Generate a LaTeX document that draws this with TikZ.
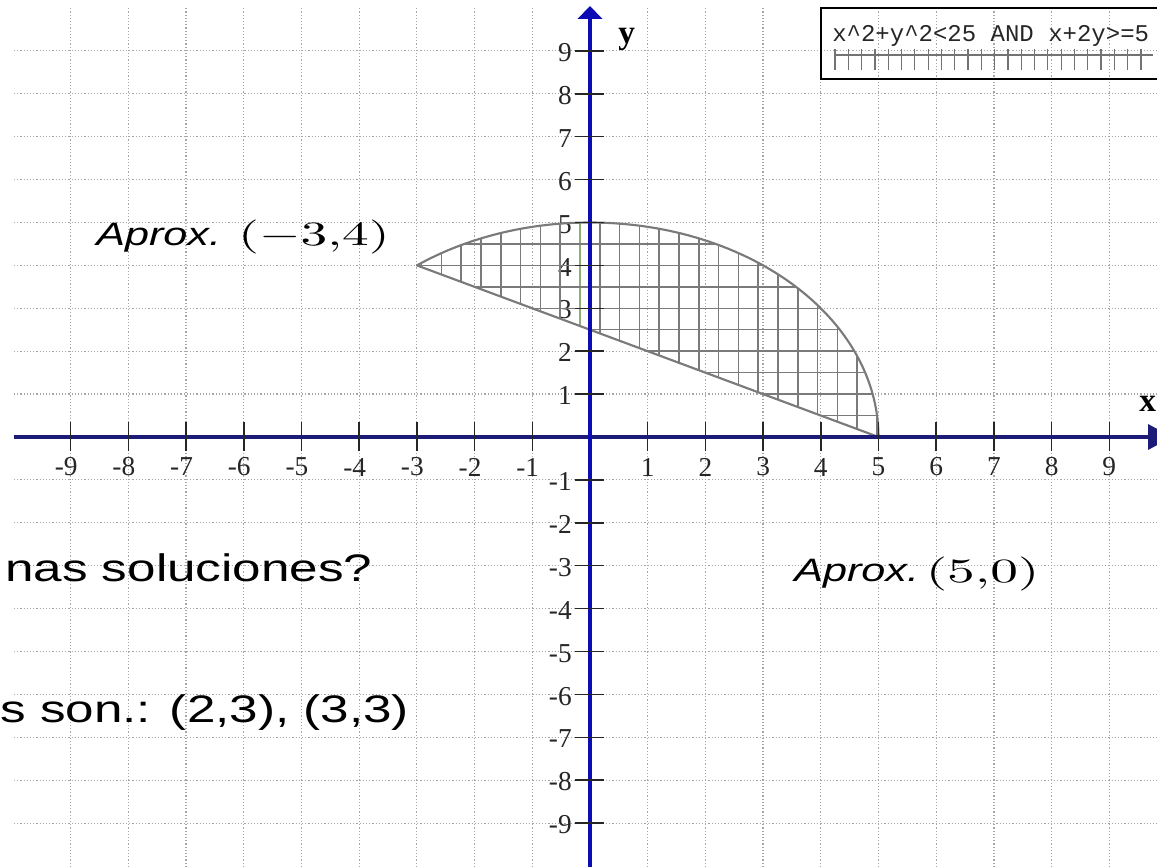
\documentclass[tikz,border=0pt]{standalone}
\usepackage{fontspec}
\usepackage{graphicx}
\setmainfont{Liberation Serif}
\newfontfamily\slidefont[FakeStretch=1.333]{Liberation Sans}
\newfontfamily\legendfont{Liberation Mono}
\newfontfamily\tickfont{Liberation Serif}
\definecolor{xaxcol}{RGB}{28,28,120}
\definecolor{yaxcol}{RGB}{12,12,180}
\definecolor{greenhatch}{RGB}{140,175,120}
\tikzset{
  gridline/.style={draw=black!35, line width=0.9pt, dash pattern=on 0.9pt off 1.5pt},
  hatchline/.style={draw=black!52, line width=1.1pt},
  boundary/.style={draw=black!52, line width=1.6pt},
  xaxisline/.style={draw=xaxcol, line width=3pt},
  yaxisline/.style={draw=yaxcol, line width=3pt},
  tickline/.style={draw=black!85, line width=1.1pt},
  ticklabel/.style={inner sep=0pt, font=\tickfont\fontsize{20.5}{20}\selectfont, text=black!85},
  axislabel/.style={inner sep=0pt, anchor=base west, font=\tickfont\bfseries\fontsize{25}{25}\selectfont},
  slidetext/.style={inner sep=0pt, anchor=base west, font=\slidefont\fontsize{28.8}{30}\selectfont},
  aproxtext/.style={inner sep=0pt, anchor=base west, font=\slidefont\fontsize{24.3}{25}\selectfont},
  legendtext/.style={inner sep=0pt, anchor=base west, text=black!85, font=\legendfont\fontsize{18}{18}\selectfont},
}
\begin{document}
\begin{tikzpicture}[x=43.275pt, y=32.175pt]
\useasboundingbox (-10.2253,-10.0233) rectangle (9.8267,10.1865);
\clip (-10.2253,-10.0233) rectangle (9.8267,10.1865);
\fill[white] (-10.3,-10.1) rectangle (9.9,10.3);
% grid
\foreach \i in {-9,...,9} \draw[gridline] (\i,-10.1) -- (\i,{(437-7)/42.9});
\foreach \j in {-9,...,9} \draw[gridline] ({(14-590)/57.7},\j) -- (9.9,\j);
% tick labels
\foreach \i in {1,...,9} {
  \node[ticklabel] (xp\i) at (\i,-0.70) {\i};
  \node[ticklabel] (xn\i) at (-\i,-0.70) {\llap{-}\i};
  \node[ticklabel, anchor=east] (yp\i) at ({-18/57.7},{\i-0.04}) {\i};
  \node[ticklabel, anchor=east] (yn\i) at ({-18/57.7},{-\i-0.04}) {-\i};
}
% solution region: hatch
\begin{scope}
  \clip (-3,4) -- (5,0) -- plot[domain=0:126.87, samples=90] ({5*cos(\x)},{5*sin(\x)}) -- cycle;
  \foreach \k in {-8,...,15} \draw[hatchline] ({(19.8*\k-10)/57.7},-0.2) -- ({(19.8*\k-10)/57.7},5.2);
  \draw[draw=greenhatch, line width=1.1pt] ({-10/57.7},-0.2) -- ({-10/57.7},5.2);
  \foreach \j in {1,...,10} \draw[hatchline] (-3.5,{\j/2}) -- (5.5,{\j/2});
\end{scope}
\draw[boundary, line join=round] (-3,4) -- (5,0) -- plot[domain=0:126.87, samples=90] ({5*cos(\x)},{5*sin(\x)}) -- cycle;
% axes
\draw[xaxisline] ({(14-590)/57.7},0) -- ({(1150-590)/57.7},0);
\fill[xaxcol] ({(1148-590)/57.7},{13/42.9}) -- ({(1172-590)/57.7},0) -- ({(1148-590)/57.7},{-13/42.9}) -- cycle;
\draw[yaxisline] (0,-10.2) -- (0,{(437-19)/42.9});
\fill[yaxcol] ({-12.5/57.7},{(437-19)/42.9}) -- (0,{(437-6)/42.9}) -- ({12.5/57.7},{(437-19)/42.9}) -- cycle;
\foreach \i in {1,...,9} {
  \draw[tickline] (\i,0.35) -- (\i,-0.33);
  \draw[tickline] (-\i,0.35) -- (-\i,-0.33);
  \draw[tickline] ({-15/57.7},\i) -- ({14/57.7},\i);
  \draw[tickline] ({-15/57.7},-\i) -- ({14/57.7},-\i);
}
\node[axislabel] (xlab) at ({(1139-590)/57.7},{(437-412)/42.9}) {x};
\node[axislabel] (ylab) at ({(618-590)/57.7},{(437-44)/42.9}) {y};
% legend
\draw[black, line width=1.6pt] ({(821-590)/57.7},{(437-8)/42.9}) rectangle ({(1180-590)/57.7},{(437-79)/42.9});
\node[legendtext] (legtext) at ({(832-590)/57.7},{(437-42)/42.9}) {x\textasciicircum 2+y\textasciicircum 2<25 AND x+2y>=5};
\draw[black!55, line width=0.9pt] ({(835-590)/57.7},{(437-55)/42.9}) -- ({(1153-590)/57.7},{(437-55)/42.9});
\foreach \k in {0,...,23} \draw[black!55, line width=0.9pt] ({(835+13.3*\k-590)/57.7},{(437-49)/42.9}) -- ({(835+13.3*\k-590)/57.7},{(437-70)/42.9});
% annotations
\node[aproxtext] (aprox1) at ({(96-590)/57.7},{(437-246)/42.9}) {\itshape Aprox.\hspace{13pt}\scalebox{4.0}[2.55]{\normalfont\fontsize{10}{10}\selectfont$(-3{,}4)$}};
\node[aproxtext] (aprox2) at ({(794-590)/57.7},{(437-582)/42.9}) {\itshape Aprox.\hspace{5pt}\scalebox{4.15}[2.55]{\normalfont\fontsize{10}{10}\selectfont$(5{,}0)$}};
\node[slidetext] (q1) at ({(5-590)/57.7},{(437-581)/42.9}) {nas soluciones?};
\node[slidetext] (q2) at ({(0-590)/57.7},{(437-722)/42.9}) {s son.: (2,3), (3,3)};
\end{tikzpicture}
\end{document}
